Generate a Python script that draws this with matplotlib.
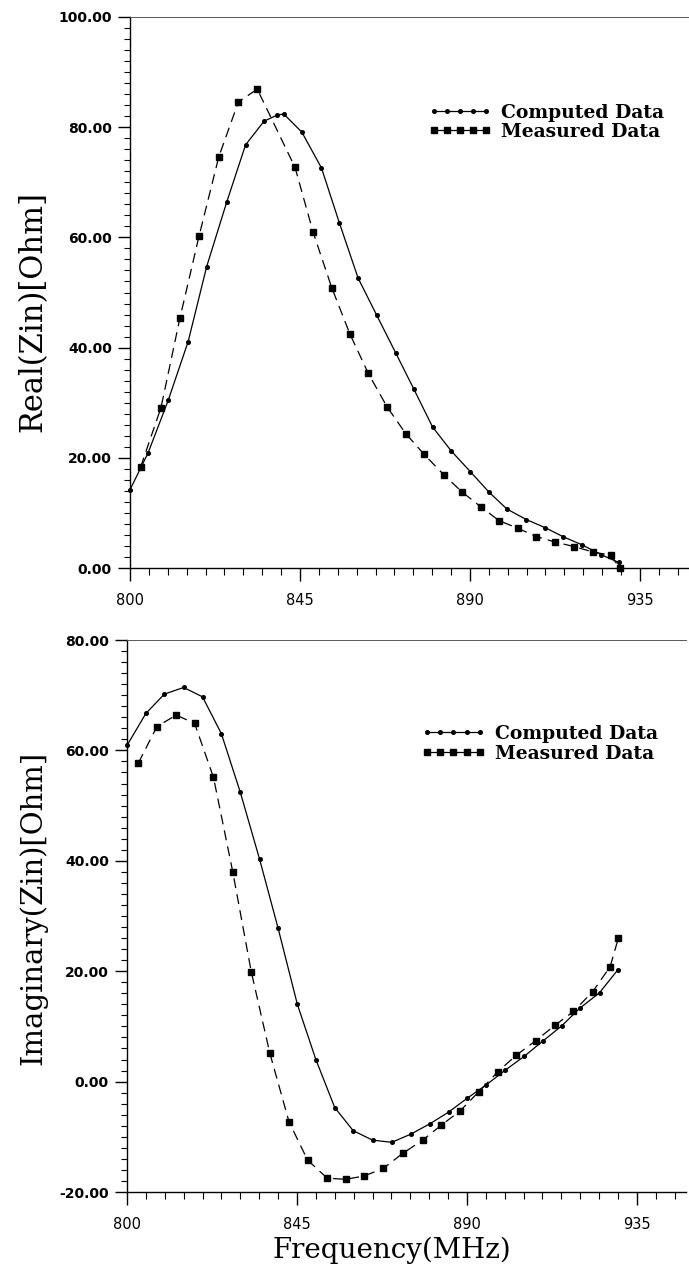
import matplotlib
matplotlib.use("Agg")
import matplotlib.pyplot as plt
from matplotlib.ticker import MultipleLocator, FixedLocator, FormatStrFormatter

# ---- data ----
freq_re_c = [800, 804.8, 810.1, 815.4, 820.3, 825.6, 830.6, 835.5, 839.0, 840.7, 845.5, 850.7,
             855.4, 860.4, 865.3, 870.3, 875.2, 880.1, 885.1, 890.1, 895.0, 899.8, 904.9, 910.0,
             914.6, 919.7, 924.8, 929.4, 930.0]
re_c = [14.2, 20.9, 30.4, 41.1, 54.7, 66.4, 76.8, 81.1, 82.2, 82.4, 79.1, 72.6,
        62.7, 52.6, 45.9, 39.1, 32.4, 25.6, 21.2, 17.5, 13.8, 10.7, 8.8, 7.3,
        5.7, 4.2, 2.4, 1.0, 0.0]

freq_re_m = [802.8, 808.2, 813.2, 818.3, 823.5, 828.7, 833.7, 843.7, 848.5, 853.4, 858.2, 863.1,
             868.1, 873.0, 877.9, 883.1, 887.9, 892.9, 897.7, 902.7, 907.6, 912.6, 917.5, 922.6,
             927.4, 929.6]
re_m = [18.3, 29.1, 45.3, 60.3, 74.6, 84.6, 86.9, 72.7, 60.9, 50.9, 42.5, 35.3,
        29.2, 24.4, 20.6, 16.9, 13.8, 11.1, 8.6, 7.2, 5.7, 4.7, 3.9, 2.9,
        2.3, 0.0]

freq_im_c = [800, 805, 809.9, 815, 820, 825, 830, 835.1, 840, 845.1, 850, 855, 859.9, 865,
             870.1, 875.2, 880.3, 885.2, 890.1, 895.1, 900.2, 905.2, 910.2, 915.1, 919.9,
             925.1, 929.9]
im_c = [60.9, 66.7, 70.2, 71.4, 69.7, 63.0, 52.4, 40.3, 27.8, 14.0, 4.0, -4.7, -8.9, -10.6,
        -11.0, -9.5, -7.6, -5.5, -3.0, -0.6, 2.1, 4.6, 7.4, 10.1, 13.3, 16.1, 20.2]

freq_im_m = [803, 807.9, 813, 817.9, 822.9, 828, 832.9, 837.8, 842.9, 847.8, 853, 857.9,
             862.8, 867.9, 873, 878.3, 883.2, 888.2, 893.2, 898.2, 903.1, 908.2, 913.3,
             918.2, 923.3, 927.9, 930.1]
im_m = [57.7, 64.3, 66.4, 64.9, 55.1, 38.0, 19.9, 5.2, -7.3, -14.2, -17.5, -17.7,
        -17.1, -15.7, -13.0, -10.6, -7.9, -5.3, -1.8, 1.8, 4.8, 7.4, 10.2,
        12.7, 16.3, 20.8, 26.0]

x_major = [800, 845, 890, 935]
legend_labels = ["Computed Data", "Measured Data"]

W, H = 689, 1276
fig = plt.figure(figsize=(W / 100, H / 100), dpi=100)


def px_axes(left, top, right, bottom):
    return fig.add_axes([left / W, 1 - bottom / H, (right - left) / W, (bottom - top) / H])


ax1 = px_axes(130, 17, 689, 568)
ax2 = px_axes(127, 640, 686, 1192)

dash = (0, (8, 5))


def style(ax, ylim, ymaj):
    ax.set_xlim(800, 948)
    ax.set_ylim(*ylim)
    ax.spines['right'].set_visible(False)
    ax.spines['top'].set_linewidth(0.7)
    ax.spines['top'].set_color('0.35')
    ax.spines['left'].set_linewidth(1.0)
    ax.spines['bottom'].set_linewidth(1.0)
    ax.xaxis.set_major_locator(FixedLocator(x_major))
    ax.xaxis.set_minor_locator(MultipleLocator(5))
    ax.yaxis.set_major_locator(MultipleLocator(ymaj))
    ax.yaxis.set_minor_locator(MultipleLocator(2))
    ax.yaxis.set_major_formatter(FormatStrFormatter('%.2f'))
    ax.tick_params(axis='y', which='major', direction='out', length=9, width=1.0, pad=4,
                   labelsize=10)
    ax.tick_params(axis='y', which='minor', direction='out', length=4.5, width=0.8)
    ax.tick_params(axis='x', which='major', direction='out', length=9, width=1.0, pad=9,
                   labelsize=10.5)
    ax.tick_params(axis='x', which='minor', direction='out', length=5, width=0.8)
    for lab in ax.get_yticklabels():
        lab.set_fontweight('bold')
        lab.set_family('DejaVu Sans')
    for lab in ax.get_xticklabels():
        lab.set_family('DejaVu Sans')


for ax, fc, yc, fm, ym, ylim, lx, ly in [
    (ax1, freq_re_c, re_c, freq_re_m, re_m, (0, 100), 0.533, 0.843),
    (ax2, freq_im_c, im_c, freq_im_m, im_m, (-20, 80), 0.527, 0.846),
]:
    ax.plot(fc, yc, color='black', lw=0.9, marker='o', ms=2.6, label=legend_labels[0],
            clip_on=False)
    ax.plot(fm, ym, color='black', lw=0.9, ls=dash, marker='s', ms=5, label=legend_labels[1],
            clip_on=False)
    style(ax, ylim, 20)
    leg = ax.legend(loc='upper left', bbox_to_anchor=(lx, ly), frameon=False, numpoints=5,
                    handlelength=3.4, handletextpad=0.5, borderpad=0, borderaxespad=0,
                    labelspacing=0.08,
                    prop={'family': 'DejaVu Serif', 'weight': 'bold', 'size': 13.5})
    for h in leg.legend_handles:
        h.set_linestyle('-')

fig.text(33 / W, 1 - 312 / H, "Real(Zin)[Ohm]", rotation=90, ha='center', va='center',
         family='DejaVu Serif', fontsize=22)
fig.text(33 / W, 1 - 908 / H, "Imaginary(Zin)[Ohm]", rotation=90, ha='center', va='center',
         family='DejaVu Serif', fontsize=21)
fig.text(392 / W, 1 - 1250 / H, "Frequency(MHz)", ha='center', va='center',
         family='DejaVu Serif', fontsize=20)

fig.savefig("out.png", dpi=100)
